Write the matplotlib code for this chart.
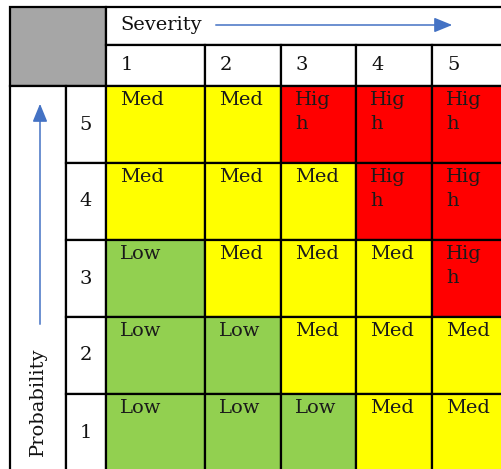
import matplotlib
matplotlib.use("Agg")
import matplotlib.pyplot as plt
from matplotlib.patches import Rectangle

# ---- data ----
severity_labels = ["1", "2", "3", "4", "5"]
probability_labels = ["5", "4", "3", "2", "1"]  # top to bottom
risk_levels = [
    ["Med", "Med", "High", "High", "High"],
    ["Med", "Med", "Med", "High", "High"],
    ["Low", "Med", "Med", "Med", "High"],
    ["Low", "Low", "Med", "Med", "Med"],
    ["Low", "Low", "Low", "Med", "Med"],
]
level_text = {"Low": "Low", "Med": "Med", "High": "Hig\nh"}
level_color = {"Low": "#92D050", "Med": "#FFFF00", "High": "#FF0000"}
x_title = "Severity"
y_title = "Probability"

# ---- layout (pixel units) ----
W, H = 502, 469
col_edges = [106, 205, 281, 356, 432, 508]
row_edges = [86, 163, 240, 317, 394, 471]
left_x0, left_x1 = 10, 66
top_y0, top_y1 = 7, 45
lw = 1.6
font = "DejaVu Serif"
fs = 14
arrow_col = "#4472C4"

fig = plt.figure(figsize=(W / 100, H / 100), dpi=100)
ax = fig.add_axes([0, 0, 1, 1])
ax.set_xlim(0, W)
ax.set_ylim(H, 0)
ax.axis("off")

# gray corner
ax.add_patch(Rectangle((left_x0, top_y0), col_edges[0] - left_x0, row_edges[0] - top_y0,
                       facecolor="#A6A6A6", edgecolor="black", lw=lw))
# severity title row
ax.add_patch(Rectangle((col_edges[0], top_y0), col_edges[-1] - col_edges[0], top_y1 - top_y0,
                       facecolor="white", edgecolor="black", lw=lw))
ax.text(col_edges[0] + 14, (top_y0 + top_y1) / 2 - 1, x_title, fontsize=fs, family=font,
        va="center", ha="left", color="#111111")
ax.annotate("", xy=(455, 25), xytext=(213, 25),
            arrowprops=dict(arrowstyle="-|>,head_length=1.1,head_width=0.45", color=arrow_col, lw=1.1))

# severity number row
for j, lab in enumerate(severity_labels):
    x0, x1 = col_edges[j], col_edges[j + 1]
    ax.add_patch(Rectangle((x0, top_y1), x1 - x0, row_edges[0] - top_y1,
                           facecolor="white", edgecolor="black", lw=lw))
    ax.text(x0 + 15, (top_y1 + row_edges[0]) / 2, lab, fontsize=fs, family=font,
            va="center", ha="left", color="#111111")

# probability title column
ax.add_patch(Rectangle((left_x0, row_edges[0]), left_x1 - left_x0, row_edges[-1] - row_edges[0],
                       facecolor="white", edgecolor="black", lw=lw))
ax.annotate("", xy=(40, 101), xytext=(40, 327),
            arrowprops=dict(arrowstyle="-|>,head_length=1.1,head_width=0.45", color=arrow_col, lw=1.1))
ax.text(38, 456, y_title, fontsize=fs, family=font, rotation=90,
        va="bottom", ha="center", color="#111111")

# probability numbers + cells
for i, plab in enumerate(probability_labels):
    y0, y1 = row_edges[i], row_edges[i + 1]
    ax.add_patch(Rectangle((left_x1, y0), col_edges[0] - left_x1, y1 - y0,
                           facecolor="white", edgecolor="black", lw=lw))
    ax.text((left_x1 + col_edges[0]) / 2, (y0 + y1) / 2, plab, fontsize=fs, family=font,
            va="center", ha="center", color="#111111")
    for j in range(len(severity_labels)):
        x0, x1 = col_edges[j], col_edges[j + 1]
        lvl = risk_levels[i][j]
        ax.add_patch(Rectangle((x0, y0), x1 - x0, y1 - y0,
                               facecolor=level_color[lvl], edgecolor="black", lw=lw))
        ax.text(x0 + 14, y0 + 5, level_text[lvl], fontsize=fs, family=font,
                va="top", ha="left", color="#1a1a1a", linespacing=1.45)

fig.savefig("out.png", dpi=100)
